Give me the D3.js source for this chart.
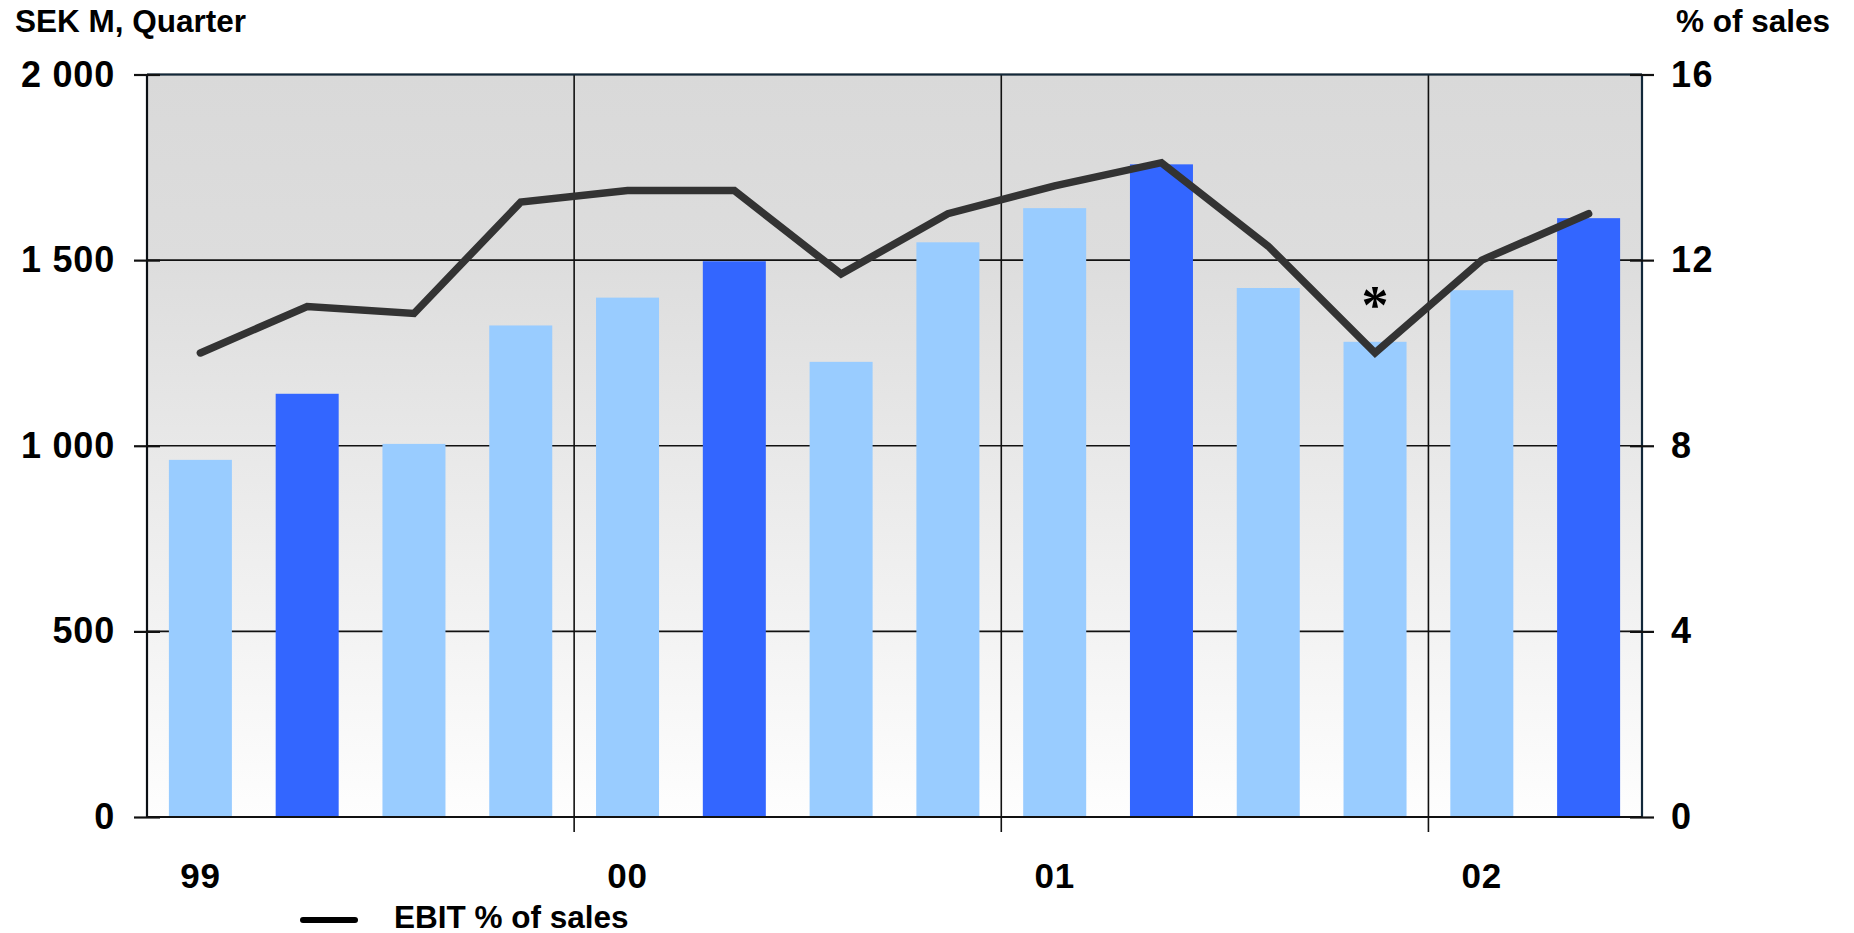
<!DOCTYPE html>
<html>
<head>
<meta charset="utf-8">
<script src="https://cdn.jsdelivr.net/npm/d3@7"></script>
<style>
  html, body { margin: 0; padding: 0; background: #ffffff; }
  svg { display: block; font-family: "Liberation Sans", Arial, Helvetica, sans-serif; font-weight: bold; }
</style>
</head>
<body>
<svg id="chart" width="1854" height="933"></svg>
<script>
// Quarterly EBIT (SEK M) with EBIT margin (% of sales), 1999 Q1 – 2002 Q2
const years      = ["99", "00", "01", "02"];
const quarters   = [1, 2, 3, 4, 1, 2, 3, 4, 1, 2, 3, 4, 1, 2];
const yearOf     = ["99", "99", "99", "99", "00", "00", "00", "00", "01", "01", "01", "01", "02", "02"];
const ebit       = [962, 1140, 1005, 1324, 1399, 1497, 1226, 1548, 1640, 1758, 1425, 1280, 1419, 1613];
const margin     = [10.0, 11.0, 10.85, 13.25, 13.5, 13.5, 11.7, 13.0, 13.6, 14.1, 12.3, 10.0, 12.0, 13.0];
const leftTicks  = [0, 500, 1000, 1500, 2000];
const leftLabels = ["0", "500", "1 000", "1 500", "2 000"];
const rightTicks = [0, 4, 8, 12, 16];
const footnoteAt = [11];          // quarter index carrying the footnote mark
const leftTitle  = "SEK M, Quarter";
const rightTitle = "% of sales";
const legendText = "EBIT % of sales";

const svg = d3.select("#chart");
const plot = { left: 147, right: 1642, top: 74.5, bottom: 817 };
const tickFont = 36;

const x = d3.scaleBand()
  .domain(d3.range(ebit.length))
  .range([plot.left, plot.right])
  .paddingInner(0.41)
  .paddingOuter(0.205);

const yL = d3.scaleLinear().domain([0, 2000]).range([plot.bottom, plot.top]);
const yR = d3.scaleLinear().domain([0, 16]).range([plot.bottom, plot.top]);

// background gradient of the plotting area
const defs = svg.append("defs");
const grad = defs.append("linearGradient")
  .attr("id", "bg").attr("x1", 0).attr("y1", 0).attr("x2", 0).attr("y2", 1);
grad.append("stop").attr("offset", "0%").attr("stop-color", "#d9d9d9");
grad.append("stop").attr("offset", "25%").attr("stop-color", "#dddddd");
grad.append("stop").attr("offset", "100%").attr("stop-color", "#fefefe");

svg.append("rect")
  .attr("x", plot.left).attr("y", plot.top)
  .attr("width", plot.right - plot.left).attr("height", plot.bottom - plot.top)
  .attr("fill", "url(#bg)");

// horizontal gridlines
svg.append("g")
  .selectAll("line")
  .data(leftTicks)
  .join("line")
  .attr("x1", plot.left).attr("x2", plot.right)
  .attr("y1", d => yL(d)).attr("y2", d => yL(d))
  .attr("stroke", "#111")
  .attr("stroke-width", 1.6);

// bars: second quarter of each year is highlighted
svg.append("g")
  .selectAll("rect")
  .data(ebit)
  .join("rect")
  .attr("x", (d, i) => x(i))
  .attr("width", x.bandwidth())
  .attr("y", d => yL(d))
  .attr("height", d => yL(0) - yL(d))
  .attr("fill", (d, i) => quarters[i] === 2 ? "#3366ff" : "#99ccff");

// year dividers, between Q4 and Q1
const step = x.step();
const dividerIdx = d3.range(1, ebit.length).filter(i => yearOf[i] !== yearOf[i - 1]);
svg.append("g")
  .selectAll("line")
  .data(dividerIdx)
  .join("line")
  .attr("x1", i => x(i) - step * x.paddingInner() / 2)
  .attr("x2", i => x(i) - step * x.paddingInner() / 2)
  .attr("y1", plot.top)
  .attr("y2", plot.bottom + 15)
  .attr("stroke", "#111")
  .attr("stroke-width", 1.6);

// frame
svg.append("line")
  .attr("x1", plot.left).attr("x2", plot.left)
  .attr("y1", plot.top).attr("y2", plot.bottom)
  .attr("stroke", "#0a0f14").attr("stroke-width", 2.2);
svg.append("line")
  .attr("x1", plot.right).attr("x2", plot.right)
  .attr("y1", plot.top).attr("y2", plot.bottom)
  .attr("stroke", "#12283a").attr("stroke-width", 2.2);
svg.append("line")
  .attr("x1", plot.left).attr("x2", plot.right)
  .attr("y1", plot.top).attr("y2", plot.top)
  .attr("stroke", "#12283a").attr("stroke-width", 2);
svg.append("line")
  .attr("x1", plot.left).attr("x2", plot.right)
  .attr("y1", plot.bottom).attr("y2", plot.bottom)
  .attr("stroke", "#111").attr("stroke-width", 2.2);

// left axis: ticks straddle the frame
const axL = svg.append("g")
  .attr("transform", `translate(${plot.left - 13},0)`)
  .call(d3.axisLeft(yL).tickValues(leftTicks)
    .tickFormat((d, i) => leftLabels[i])
    .tickSize(-26).tickPadding(19));
axL.select(".domain").remove();
axL.selectAll(".tick line").attr("stroke", "#111").attr("stroke-width", 2.2);
axL.selectAll(".tick text")
  .attr("font-size", tickFont).attr("font-weight", "bold").attr("fill", "#000")
  .attr("letter-spacing", 0.8)
  .attr("font-family", "Liberation Sans, Arial, sans-serif");

// right axis
const axR = svg.append("g")
  .attr("transform", `translate(${plot.right + 12},0)`)
  .call(d3.axisRight(yR).tickValues(rightTicks)
    .tickSize(-24).tickPadding(17));
axR.select(".domain").remove();
axR.selectAll(".tick line").attr("stroke", "#111").attr("stroke-width", 2.2);
axR.selectAll(".tick text")
  .attr("font-size", tickFont).attr("font-weight", "bold").attr("fill", "#000")
  .attr("letter-spacing", 1.5)
  .attr("font-family", "Liberation Sans, Arial, sans-serif");

// year labels under each year's first quarter
svg.append("g")
  .selectAll("text")
  .data(years)
  .join("text")
  .attr("x", yr => x(yearOf.indexOf(yr)) + x.bandwidth() / 2)
  .attr("y", 888)
  .attr("text-anchor", "middle")
  .attr("font-size", 35)
  .attr("letter-spacing", 0.8)
  .attr("fill", "#000")
  .text(d => d);

// EBIT margin line
const line = d3.line()
  .x((d, i) => x(i) + x.bandwidth() / 2)
  .y(d => yR(d));
svg.append("path")
  .datum(margin)
  .attr("d", line)
  .attr("fill", "none")
  .attr("stroke", "#333333")
  .attr("stroke-width", 7.5)
  .attr("stroke-linejoin", "miter")
  .attr("stroke-linecap", "round");

// footnote mark
svg.append("g")
  .selectAll("text")
  .data(footnoteAt)
  .join("text")
  .attr("x", i => x(i) + x.bandwidth() / 2)
  .attr("y", i => yL(ebit[i]) - 19)
  .attr("text-anchor", "middle")
  .attr("font-family", "Liberation Serif, Times New Roman, serif")
  .attr("font-weight", "bold")
  .attr("font-size", 54)
  .attr("fill", "#000")
  .text("*");

// axis titles
svg.append("text")
  .attr("x", 15).attr("y", 32)
  .attr("font-size", 31.5).attr("fill", "#000")
  .text(leftTitle);
svg.append("text")
  .attr("x", 1830).attr("y", 32)
  .attr("text-anchor", "end")
  .attr("font-size", 31.5).attr("fill", "#000")
  .text(rightTitle);

// legend
const lg = svg.append("g");
lg.append("line")
  .attr("x1", 303).attr("x2", 355)
  .attr("y1", 920).attr("y2", 920)
  .attr("stroke", "#000").attr("stroke-width", 6)
  .attr("stroke-linecap", "round");
lg.append("text")
  .attr("x", 394).attr("y", 927.5)
  .attr("font-size", 31.5).attr("fill", "#000")
  .text(legendText);
</script>
</body>
</html>
